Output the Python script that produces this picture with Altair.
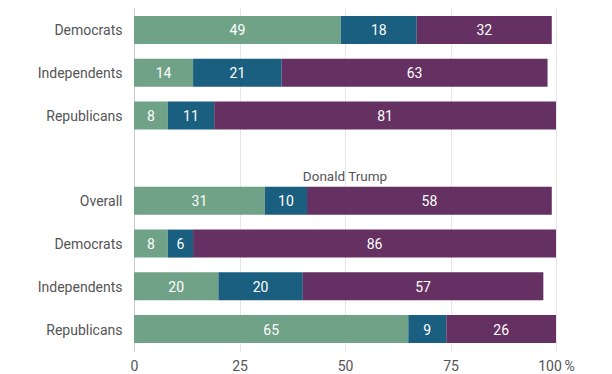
import altair as alt
import pandas as pd

# ---- data ----
series = ["Series 1", "Series 2", "Series 3"]
colors = ["#6fa287", "#1a5e80", "#653162"]

upper_group = "Upper panel"
upper_cats = ["Democrats", "Independents", "Republicans"]
upper_s1 = [49, 14, 8]
upper_s2 = [18, 21, 11]
upper_s3 = [32, 63, 81]

lower_group = "Donald Trump"
lower_cats = ["Overall", "Democrats", "Independents", "Republicans"]
lower_s1 = [31, 8, 20, 65]
lower_s2 = [10, 6, 20, 9]
lower_s3 = [58, 86, 57, 26]

x_ticks = [0, 25, 50, 75, 100]

# ---- build tables ----
rows = []
for grp, cats, vals in [
    (upper_group, upper_cats, [upper_s1, upper_s2, upper_s3]),
    (lower_group, lower_cats, [lower_s1, lower_s2, lower_s3]),
]:
    for i, c in enumerate(cats):
        for k, s in enumerate(series):
            rows.append({"row": f"{grp}|{c}", "series": s, "order": k, "value": vals[k][i]})
df = pd.DataFrame(rows)

title_key = f"{lower_group}|title"
y_domain = [f"{upper_group}|{c}" for c in upper_cats] + [title_key] + [f"{lower_group}|{c}" for c in lower_cats]
titles = pd.DataFrame([{"row": title_key, "label": lower_group, "x": 50}])

FONT = "Roboto"

y_enc = alt.Y(
    "row:N",
    sort=y_domain,
    scale=alt.Scale(domain=y_domain, paddingInner=0.344, paddingOuter=0.187),
    axis=alt.Axis(
        title=None,
        ticks=False,
        grid=False,
        domain=True,
        domainColor="#cccccc",
        labelFont=FONT,
        labelFontSize=14,
        labelColor="#555555",
        labelPadding=12,
        labelOffset=1.5,
        labelExpr="split(datum.label, '|')[1] == 'title' ? '' : split(datum.label, '|')[1]",
    ),
)

x_scale = alt.Scale(domain=[0, 100], nice=False)
x_axis = alt.Axis(
    title=None,
    values=x_ticks,
    grid=True,
    gridColor="#e6e6e6",
    domain=False,
    ticks=False,
    labelFlush=False,
    labelFont=FONT,
    labelFontSize=14,
    labelColor="#555555",
    labelPadding=8,
    labelExpr="datum.value == 100 ? '100\u2009%' : datum.label",
)

base = alt.Chart(df).transform_stack(
    stack="value", groupby=["row"], as_=["x0", "x1"], sort=[alt.SortField("order")]
).transform_calculate(mid="(datum.x0 + datum.x1) / 2")

bars = base.mark_bar().encode(
    y=y_enc,
    x=alt.X("x0:Q", scale=x_scale, axis=x_axis),
    x2="x1:Q",
    color=alt.Color("series:N", scale=alt.Scale(domain=series, range=colors), legend=None),
)

labels = base.mark_text(font=FONT, fontSize=14, color="white", dy=1.5).encode(
    y=alt.Y("row:N", sort=y_domain),
    x=alt.X("mid:Q", scale=x_scale),
    text="value:Q",
)

title_text = alt.Chart(titles).mark_text(
    font=FONT, fontSize=13.5, color="#555555", dy=19
).encode(
    y=alt.Y("row:N", sort=y_domain),
    x=alt.X("x:Q", scale=x_scale),
    text="label:N",
)

chart = alt.layer(bars, labels, title_text).properties(
    width=422,
    height=343,
    padding={"left": 126, "top": 0, "right": 40, "bottom": 26},
    autosize=alt.AutoSizeParams(type="none"),
).configure_view(stroke=None)

chart.save("out.html", embed_options={"renderer": "svg", "actions": False})
